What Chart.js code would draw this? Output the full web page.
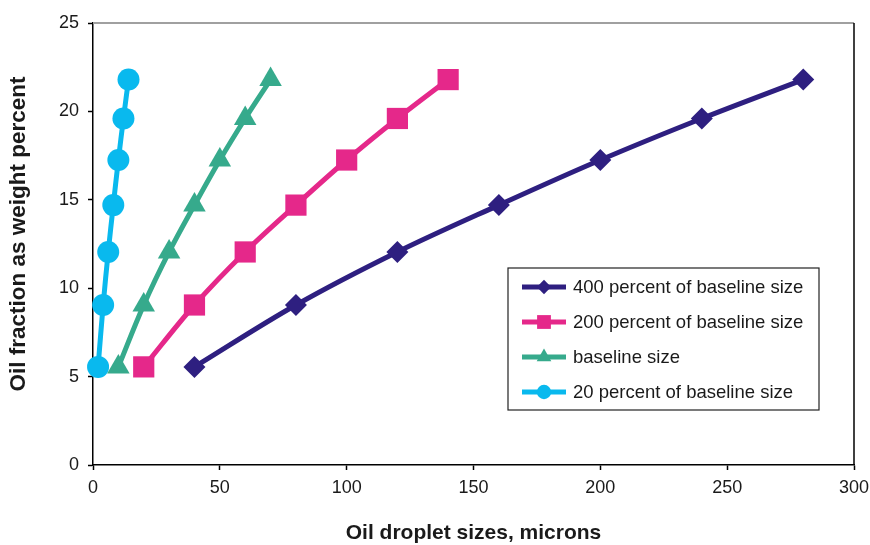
<!DOCTYPE html>
<html>
<head>
<meta charset="utf-8">
<title>Oil droplet sizes</title>
<script src="https://cdn.jsdelivr.net/npm/chart.js@4/dist/chart.umd.min.js"></script>
<style>
  html, body { margin: 0; padding: 0; background: #fff; }
  #wrap { width: 870px; height: 545px; position: relative; }
</style>
</head>
<body>
<div id="wrap"><canvas id="oilChart" width="870" height="545"></canvas></div>
<script>
// weight percent is the same for every droplet-size series
const weightPct = [5.55, 9.05, 12.05, 14.7, 17.25, 19.6, 21.8];

const size400 = [40, 80, 120, 160, 200, 240, 280];
const size200 = [20, 40, 60, 80, 100, 120, 140];
const sizeBase = [10, 20, 30, 40, 50, 60, 70];
const size20 = [2, 4, 6, 8, 10, 12, 14];

const seriesLabels = [
  '400 percent of baseline size',
  '200 percent of baseline size',
  'baseline size',
  '20 percent of baseline size'
];

const xTicks = [0, 50, 100, 150, 200, 250, 300];
const yTicks = [0, 5, 10, 15, 20, 25];

const xTitle = 'Oil droplet sizes, microns';
const yTitle = 'Oil fraction as weight percent';

const FONT = '"Liberation Sans", Arial, Helvetica, sans-serif';
const TEXT = '#1a1a1a';

function pairs(xs) {
  return xs.map((x, i) => ({ x: x, y: weightPct[i] }));
}

function series(label, xs, color, style, radius) {
  return {
    label: label,
    data: pairs(xs),
    borderColor: color,
    backgroundColor: color,
    borderWidth: 5,
    pointStyle: style,
    pointRadius: radius,
    pointHoverRadius: radius,
    pointBorderWidth: 0,
    tension: 0.35,
    clip: false
  };
}

const datasets = [
  series(seriesLabels[0], size400, '#2e1f80', 'rectRot', 11),
  series(seriesLabels[1], size200, '#e5288a', 'rect', 15),
  series(seriesLabels[2], sizeBase, '#36aa8c', 'triangle', 13),
  series(seriesLabels[3], size20, '#09b9ee', 'circle', 11)
];

// little shape drawer for the boxed legend
function marker(ctx, style, x, y, r) {
  ctx.beginPath();
  if (style === 'circle') {
    ctx.arc(x, y, r, 0, Math.PI * 2);
  } else if (style === 'rect') {
    const s = r * Math.SQRT1_2;
    ctx.rect(x - s, y - s, s * 2, s * 2);
  } else if (style === 'rectRot') {
    ctx.moveTo(x - r, y); ctx.lineTo(x, y - r);
    ctx.lineTo(x + r, y); ctx.lineTo(x, y + r);
  } else if (style === 'triangle') {
    const h = r * 1.5, w = r * Math.sqrt(3) / 2;
    ctx.moveTo(x - w, y + h / 3); ctx.lineTo(x + w, y + h / 3);
    ctx.lineTo(x, y - 2 * h / 3);
  }
  ctx.closePath();
  ctx.fill();
}

const frameAndLegend = {
  id: 'frameAndLegend',
  afterDraw(chart) {
    const ctx = chart.ctx;
    const a = chart.chartArea;
    ctx.save();
    // top edge gray, right edge black
    ctx.lineWidth = 2;
    ctx.strokeStyle = '#a0a0a0';
    ctx.beginPath(); ctx.moveTo(a.left, a.top); ctx.lineTo(a.right, a.top); ctx.stroke();
    ctx.lineWidth = 1.5;
    ctx.strokeStyle = '#000';
    ctx.beginPath(); ctx.moveTo(a.right, a.top); ctx.lineTo(a.right, a.bottom); ctx.stroke();

    // vertical axis title, sits a bit above the plot's middle
    ctx.save();
    ctx.translate(19, (a.top + a.bottom) / 2 - 10);
    ctx.rotate(-Math.PI / 2);
    ctx.font = 'bold 22.5px ' + FONT;
    ctx.fillStyle = TEXT;
    ctx.textAlign = 'center';
    ctx.textBaseline = 'middle';
    ctx.fillText(yTitle, 0, 0);
    ctx.restore();

    // legend box
    const bx = a.right - 346, by = a.top + 245, bw = 311, bh = 142;
    ctx.fillStyle = '#fff';
    ctx.fillRect(bx, by, bw, bh);
    ctx.lineWidth = 1.2;
    ctx.strokeStyle = '#222';
    ctx.strokeRect(bx, by, bw, bh);

    ctx.font = '18.5px ' + FONT;
    ctx.textBaseline = 'middle';
    ctx.textAlign = 'left';
    chart.data.datasets.forEach((ds, i) => {
      const y = by + 19 + i * 35;
      ctx.strokeStyle = ds.borderColor;
      ctx.fillStyle = ds.borderColor;
      ctx.lineWidth = 5;
      ctx.beginPath(); ctx.moveTo(bx + 14, y); ctx.lineTo(bx + 58, y); ctx.stroke();
      marker(ctx, ds.pointStyle, bx + 36, y, ds.pointRadius * 0.65);
      ctx.fillStyle = TEXT;
      ctx.fillText(ds.label, bx + 65, y + 1);
    });
    ctx.restore();
  }
};

const ctx = document.getElementById('oilChart').getContext('2d');
const oilChart = new Chart(ctx, {
  type: 'line',
  data: { datasets: datasets },
  options: {
    responsive: false,
    animation: false,
    layout: { padding: { top: 23, right: 16, left: 0, bottom: 0 } },
    plugins: {
      legend: { display: false },
      tooltip: { enabled: false }
    },
    scales: {
      x: {
        type: 'linear',
        min: 0,
        max: 300,
        afterBuildTicks: s => { s.ticks = xTicks.map(v => ({ value: v })); },
        afterFit: s => { s.height = 80; s.paddingLeft = 0; s.paddingRight = 0; },
        border: { display: true, color: '#000', width: 1.5 },
        grid: { drawOnChartArea: false, drawTicks: true, tickLength: 5, tickColor: '#000', tickWidth: 1.5 },
        ticks: { color: TEXT, font: { family: FONT, size: 18 }, padding: 7, maxRotation: 0 },
        title: {
          display: true,
          text: xTitle,
          color: TEXT,
          font: { family: FONT, size: 21, weight: 'bold', lineHeight: 1 },
          padding: { top: 0, bottom: 1 }
        }
      },
      y: {
        type: 'linear',
        min: 0,
        max: 25,
        afterBuildTicks: s => { s.ticks = yTicks.map(v => ({ value: v })); },
        afterFit: s => { s.width = 93; s.paddingTop = 0; s.paddingBottom = 0; },
        border: { display: true, color: '#000', width: 1.5 },
        grid: { drawOnChartArea: false, drawTicks: true, tickLength: 5, tickColor: '#000', tickWidth: 1.5 },
        ticks: { color: TEXT, font: { family: FONT, size: 18 }, padding: 9 },
        title: { display: false }
      }
    }
  },
  plugins: [frameAndLegend]
});
</script>
</body>
</html>
